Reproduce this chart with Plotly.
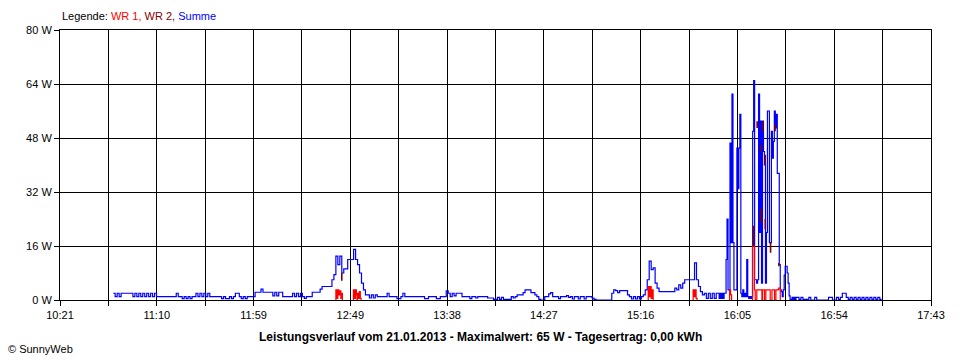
import plotly.graph_objects as go

# ---------------- data ----------------
# time axis in minutes since midnight
X_START, X_END = 621, 1063          # 10:21 .. 17:43
x_tick_labels = ["10:21", "11:10", "11:59", "12:49", "13:38",
                 "14:27", "15:16", "16:05", "16:54", "17:43"]
y_tick_values = [0, 16, 32, 48, 64, 80]
y_tick_labels = ["0 W", "16 W", "32 W", "48 W", "64 W", "80 W"]

# Summe [W], part A: one sample per minute starting 10:48
summe_a_start = 648
summe_a = [
    2, 1, 2, 1, 2, 2, 2, 2, 2, 2,            # 10:48
    1, 2, 1, 2, 1, 2, 1, 2, 1, 2,
    1, 2, 1, 1, 1, 1, 1, 1, 1, 1,
    1, 1, 2, 1, 1, 0.4, 1, 0.4, 1, 0.4,
    1, 1, 2, 1, 2, 1, 2, 1, 2, 1,
    1, 1, 1, 1, 1, 0.4, 1, 0.4, 0.4, 1,
    0.4, 1, 2, 2, 1, 0.4, 1, 0.4, 1, 1,
    1, 1, 2.3, 2.3, 2.3, 3.2, 2.3, 2.3, 2.3, 2.3,
    2.3, 1.2, 2.3, 1.2, 2.3, 2.3, 1, 1, 1, 1,
    1, 2, 1, 2, 1, 2, 1, 0.5, 1, 1,
    1, 2.3, 2.3, 2.3, 2.3, 3.2, 4, 4, 4, 4,   # 12:28
    4, 6, 7.5, 13, 10.5, 13, 8, 9.2, 9.2, 12,
    12, 12, 15, 12, 10.5, 8, 5, 3, 1.5, 1.5,
    0.6, 1.5, 0.6, 1.5, 1, 1, 1, 1, 1, 2,
    1, 1, 1, 1, 0.4, 0.4, 1, 2, 1, 1,
    1, 1, 1, 1, 1, 1, 1, 1, 0.4, 0.4,
    1, 1, 1, 1, 0.4, 0.4, 1, 1, 1, 2.7,
    2, 1, 2, 1.2, 2, 2, 2, 1, 1, 1,
    1, 0.4, 1, 1, 0.6, 1, 1, 1, 1, 1,
    0.6, 0.6, 0.6, 0.2, 0.2, 0.8, 0.2, 0.8, 0.2, 0.2,
    0.2, 0.2, 1, 0.6, 1, 1.5, 1.5, 1.5, 2.2, 3,   # 14:08
    3, 3, 2.2, 2.2, 1.5, 1, 0.2, 0, 0, 1,
    1, 1.8, 2.2, 1, 1, 1, 0.4, 1, 1, 1,
    1.3, 0.8, 1, 0.3, 1, 1, 0.3, 1, 1, 0.3,
    1, 1, 1, 0.6, 0.2, 0, 0, 0, 0, 0,
    0, 0, 0, 2, 3, 2.8, 2.2, 2.8, 2.8, 2.8,
    2.8, 1.5, 1, 0.3, 1, 0.3, 1, 0.3, 1, 1.5,
    3, 6, 11.5, 9, 9.5, 5, 3.5, 2.5, 2.5, 2.5,
    2.5, 2.5, 2.5, 2.5, 2.5, 3.5, 3, 4.5, 3.5, 5,
    6, 6, 6, 6, 6, 11, 6, 4, 2.5, 1.5,
    2, 0.5, 2, 0.5, 2, 0.5, 2,
]
# Summe [W], part B: one sample per 30 s starting 15:55
summe_b_start = 955
summe_b = [
    2, 0.5, 2, 0.5, 2, 0.5, 2, 2, 12, 24,
    3, 3, 46.5, 17, 61, 17, 3, 3, 3, 45,
    33, 45, 55, 2, 1, 3, 1, 2, 1, 12,
    1, 0.5, 1, 0.5, 1, 50, 65, 6, 6, 5,
    6, 61, 20, 53, 5, 53, 44, 40, 5, 20,
    56, 56, 17, 17, 50, 42, 47, 56, 51, 55,
    37.5, 37.5, 10.5, 3, 2.5, 1, 3, 7.4, 10, 10,
    8, 5, 1.2, 0.2, 0.2, 0.8, 0.2, 0.8, 0.2, 0.8,
]
# Summe [W], part C: one sample per minute starting 16:35
summe_c_start = 995
summe_c = [
    0.8, 0.2, 0.8, 0.2, 0.2, 0.2, 0.8, 0, 0, 0.8,
    0, 0, 0, 0, 0, 0, 0.8, 0.8, 0, 0,
    0.8, 0.2, 0.8, 2, 2, 0.8, 0.2, 0.8, 0.2, 0.8,
    0.2, 0.8, 0.2, 0.8, 0.2, 0.8, 0.2, 0.8, 0.2, 0.8,
    0.2, 0.8, 0.2, 0.2,
]

# WR 1 [W] (bursts only, None = no data)
wr1_time = [760.9, 761.0, 761.5, 762.0, 762.5, 763.0, 763.5, 764.0, 764.3, None,
             769.8, 769.9, 770.4, 770.9, 771.4, 771.7, 771.9, 772.4, 772.9, 773.4, 773.8, None,
             919.4, 919.5, 920.0, 920.5, 921.0, 921.5, 922.0, None,
             942.2, 942.3, 942.8, 943.3, 943.8, 944.3, None,
             960.7, 960.8, 961.3, 961.8, None,
             972.3, 972.4, 973.4, 973.8, 974.6, 977.2, 977.5, 978.5, 979.2,
             981.4, 982.3, 983.6, 984.3, 985.6, 986.5]
wr1_watt = [0, 3, 0.5, 3, 1.5, 2.7, 0.5, 2, 0, None,
            0, 3, 0.5, 3, 1.5, 0, 2, 0.5, 2.5, 0.5, 0, None,
            0, 4, 1, 4, 0.5, 3, 0, None,
            0, 3, 1, 3, 0.5, 0, None,
            0, 3, 1.5, 0, None,
            0, 16, 3, 0, 3, 0, 3, 0, 3,
            0, 3, 0, 3, 3.5, 0]

# WR 2 [W]: parts visible beside the sum line (time, low, high)
wr2_time = [764.0, 972.9, 974.8, 976.6, 976.6, 977.6, 978.9, 978.9, 981.6, 983.9, 985.8]
wr2_low = [5.7, 16, 51, 44, 23, 50, 40, 21, 14, 50, 10]
wr2_high = [8, 22, 53, 46, 27, 53, 43, 24, 17, 52, 11]

# ---------------- build ----------------
sum_t = ([summe_a_start + i for i in range(len(summe_a))]
         + [summe_b_start + 0.5 * i for i in range(len(summe_b))]
         + [summe_c_start + i for i in range(len(summe_c))])
sum_w = summe_a + summe_b + summe_c

wr2_x, wr2_y = [], []
for t, lo, hi in zip(wr2_time, wr2_low, wr2_high):
    wr2_x += [t, t, None]
    wr2_y += [lo, hi, None]

BLUE, RED, DARKRED = "#0000FF", "#FF0000", "#800000"
FONT = "Liberation Sans, Arial, sans-serif"

fig = go.Figure()
fig.add_trace(go.Scatter(x=sum_t, y=sum_w, mode="lines", line=dict(color=BLUE, width=1.2, shape="hv"),
                         hoverinfo="skip", name="Summe"))
fig.add_trace(go.Scatter(x=wr1_time, y=wr1_watt, mode="lines", line=dict(color=RED, width=1.2, shape="hv"),
                         connectgaps=False, hoverinfo="skip", name="WR 1"))
fig.add_trace(go.Scatter(x=wr2_x, y=wr2_y, mode="lines", line=dict(color=DARKRED, width=1.6),
                         connectgaps=False, hoverinfo="skip", name="WR 2"))

n_grid = 2 * (len(x_tick_labels) - 1)
x_tickvals = [X_START + (X_END - X_START) * k / n_grid for k in range(n_grid + 1)]
x_ticktext = [x_tick_labels[k // 2] if k % 2 == 0 else "" for k in range(n_grid + 1)]

fig.update_layout(
    width=960, height=360,
    margin=dict(l=60, r=29, t=30, b=60),
    paper_bgcolor="white", plot_bgcolor="white",
    showlegend=False,
    font=dict(family=FONT, size=11, color="black"),
    xaxis=dict(range=[X_START, X_END], tickvals=x_tickvals, ticktext=x_ticktext,
               showgrid=True, gridcolor="black", gridwidth=1, zeroline=False,
               showline=True, linecolor="black", linewidth=1, mirror=True,
               ticks="outside", ticklen=5, tickcolor="black", tickwidth=1,
               tickfont=dict(size=11, family=FONT)),
    yaxis=dict(range=[0, 80], tickvals=y_tick_values, ticktext=y_tick_labels,
               showgrid=True, gridcolor="black", gridwidth=1, zeroline=False,
               showline=True, linecolor="black", linewidth=1, mirror=True,
               ticks="outside", ticklen=5, tickcolor="black", tickwidth=1,
               tickfont=dict(size=11, family=FONT)),
    annotations=[
        dict(text=("Legende: <span style='color:#FF0000'>WR 1,</span> "
                   "<span style='color:#800000'>WR 2,</span> "
                   "<span style='color:#0000FF'>Summe</span>"),
             xref="paper", yref="paper", x=0, y=(300 - 16.5) / 270,
             xanchor="left", yanchor="middle", showarrow=False,
             font=dict(size=11, family=FONT, color="black")),
        dict(text="<b>Leistungsverlauf vom 21.01.2013 - Maximalwert: 65 W - Tagesertrag: 0,00 kWh</b>",
             xref="paper", yref="paper", x=(480.5 - 60) / 871, y=(300 - 337) / 270,
             xanchor="center", yanchor="middle", showarrow=False,
             font=dict(size=12, family=FONT, color="black")),
        dict(text="© SunnyWeb", xref="paper", yref="paper",
             x=(6 - 60) / 871, y=(300 - 349) / 270,
             xanchor="left", yanchor="middle", showarrow=False,
             font=dict(size=11, family=FONT, color="black")),
    ],
)

fig.write_html("out.html", config={"displayModeBar": False},
               post_script="document.body.style.margin='0px';document.body.style.overflow='hidden';")
